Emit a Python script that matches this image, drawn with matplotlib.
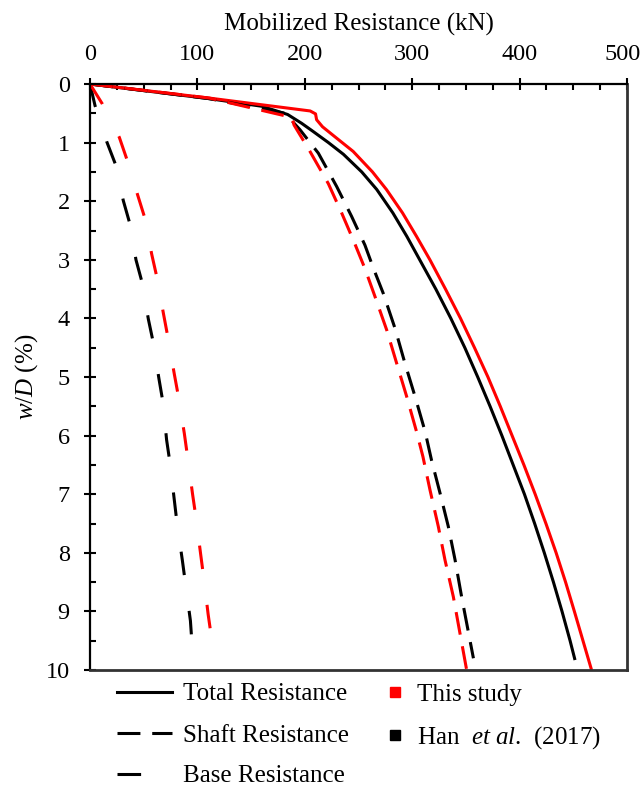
import matplotlib
matplotlib.use("Agg")
import matplotlib.pyplot as plt
import matplotlib.transforms as mtransforms
from matplotlib.ticker import MultipleLocator
from matplotlib.lines import Line2D

plt.rcParams['font.family'] = ['Liberation Serif', 'DejaVu Serif']
plt.rcParams['mathtext.fontset'] = 'custom'
plt.rcParams['mathtext.rm'] = 'Liberation Serif'
plt.rcParams['mathtext.it'] = 'Liberation Serif:italic'
plt.rcParams['lines.scale_dashes'] = False

# ---- data (Mobilized resistance kN, w/D %) ----
this_total_x = [0, 111, 205, 210, 211, 216.5, 228, 245, 263, 276, 291, 304, 316.5, 331, 345, 358, 370.5, 382, 393, 404, 414.5, 424.5, 434, 442.8, 451, 459, 467]
this_total_y = [0, 0.24, 0.46, 0.51, 0.61, 0.73, 0.9, 1.15, 1.5, 1.8, 2.2, 2.6, 3.0, 3.5, 4.0, 4.5, 5.0, 5.5, 6.0, 6.5, 7.0, 7.5, 8.0, 8.5, 9.0, 9.5, 10.0]

han_total_x = [0, 111, 160, 184, 197, 207, 222, 236, 253, 267, 282, 295, 307, 322, 336, 349, 361, 372.5, 383.5, 394, 404.5, 414, 423, 431.5, 439.5, 447, 451.6]
han_total_y = [0, 0.25, 0.38, 0.52, 0.67, 0.8, 1.0, 1.2, 1.5, 1.8, 2.2, 2.6, 3.0, 3.5, 4.0, 4.5, 5.0, 5.5, 6.0, 6.5, 7.0, 7.5, 8.0, 8.5, 9.0, 9.5, 9.83]

this_shaft_x = [0, 111, 188, 190, 204.8, 221.9, 234.3, 246, 256, 265.4, 276.3, 285.6, 294.8, 304, 310, 316.6, 324.3, 330.5, 338.3, 350.7]
this_shaft_y = [0, 0.24, 0.57, 0.70, 1.15, 1.70, 2.20, 2.70, 3.15, 3.63, 4.20, 4.77, 5.33, 5.93, 6.36, 6.93, 7.55, 8.12, 8.75, 10.0]

han_shaft_x = [0, 111, 181.6, 195.5, 212.6, 229.7, 243.6, 256, 264, 273, 284, 293.3, 302.6, 312, 318, 325.9, 333.6, 339.9, 346, 357]
han_shaft_y = [0, 0.25, 0.50, 0.78, 1.18, 1.75, 2.26, 2.75, 3.15, 3.57, 4.17, 4.77, 5.33, 5.93, 6.42, 6.98, 7.55, 8.12, 8.75, 9.80]

this_base_x = [0, 11.5, 27.3, 34.6, 44.3, 51.1, 57.4, 62.3, 68.3, 72.5, 78.5, 82.5, 87.8, 90.9, 95.5, 98.6, 103, 106, 110, 113.2]
this_base_y = [0, 0.34, 0.91, 1.30, 1.89, 2.29, 2.90, 3.30, 3.91, 4.32, 4.95, 5.35, 5.96, 6.37, 7.00, 7.39, 8.02, 8.44, 9.05, 9.46]

han_base_x = [0, 4.7, 15.5, 23.9, 31.0, 37.2, 42.8, 48.7, 54.3, 59.0, 64.2, 68.0, 71.3, 74.5, 78.5, 81.0, 86.0, 88.7, 93.5, 95.0]
han_base_y = [0, 0.37, 0.98, 1.38, 1.99, 2.39, 3.00, 3.40, 4.01, 4.42, 5.03, 5.44, 6.07, 6.47, 7.10, 7.49, 8.13, 8.50, 9.16, 9.56]

x_ticks = [0, 100, 200, 300, 400, 500]
y_ticks = [0, 1, 2, 3, 4, 5, 6, 7, 8, 9, 10]

RED = '#ff0000'
BLK = '#000000'
LW = 2.2
SHAFT_DASH = (16.5, 8.5)
BASE_DASH = (17.0, 26.0)
FS = 18
TFS = 17.5

fig = plt.figure(figsize=(6.44, 7.87), dpi=100)
ax = fig.add_axes([90/644, 1-670/787, (627-90)/644, (670-84)/787])

ax.plot(han_total_x, han_total_y, color=BLK, lw=LW, solid_capstyle='butt')
ax.plot(this_total_x, this_total_y, color=RED, lw=LW, solid_capstyle='butt')
ax.plot(han_shaft_x, han_shaft_y, color=BLK, lw=LW, dashes=SHAFT_DASH)
ax.plot(this_shaft_x, this_shaft_y, color=RED, lw=LW, dashes=SHAFT_DASH)
ax.plot(han_base_x, han_base_y, color=BLK, lw=LW, dashes=BASE_DASH)
ax.plot(this_base_x, this_base_y, color=RED, lw=LW, dashes=BASE_DASH)

ax.set_xlim(0, 500)
ax.set_ylim(10, 0)
ax.xaxis.tick_top()
ax.xaxis.set_label_position('top')
ax.set_xticks(x_ticks)
ax.set_yticks(y_ticks)
ax.xaxis.set_minor_locator(MultipleLocator(25))
ax.yaxis.set_minor_locator(MultipleLocator(0.5))
ax.tick_params(axis='both', which='major', direction='inout', length=9, width=1.5,
               labelsize=TFS)
ax.tick_params(axis='x', which='major', pad=9)
ax.tick_params(axis='y', which='major', pad=10)
ax.tick_params(axis='both', which='minor', direction='in', length=4.5, width=1.5)
ax.tick_params(axis='x', which='both', top=True, bottom=False)
ax.tick_params(axis='y', which='both', left=True, right=False)

for s in ['left', 'top']:
    ax.spines[s].set_linewidth(1.6)
    ax.spines[s].set_color('black')
for s in ['right', 'bottom']:
    ax.spines[s].set_linewidth(2.0)
    ax.spines[s].set_color('#333333')

ax.set_xlabel('Mobilized Resistance (kN)', fontsize=FS, labelpad=10)
ax.set_ylabel(r'$\mathit{w}$/$\mathit{D}$ (%)', fontsize=FS, labelpad=4)

# keep the last top tick label inside the canvas
fig.canvas.draw()
lab = ax.xaxis.get_majorticklabels()[-1]
lab.set_transform(lab.get_transform() + mtransforms.ScaledTranslation(-3/72, 0, fig.dpi_scale_trans))

h1 = [Line2D([], [], color=BLK, lw=LW),
      Line2D([], [], color=BLK, lw=LW, dashes=SHAFT_DASH),
      Line2D([], [], color=BLK, lw=LW, dashes=BASE_DASH)]
l1 = ['Total Resistance', 'Shaft Resistance', 'Base Resistance']
fig.legend(h1, l1, loc='upper left', bbox_to_anchor=(117/644, 1-683/787),
           frameon=False, fontsize=FS, handlelength=2.2, handletextpad=0.45,
           labelspacing=0.74, borderpad=0, borderaxespad=0)

h2 = [Line2D([], [], color=RED, marker='s', ms=7, ls='none'),
      Line2D([], [], color=BLK, marker='s', ms=7, ls='none')]
l2 = ['This study', r'Han  $\mathit{et\ al}$.  (2017)']
fig.legend(h2, l2, loc='upper left', bbox_to_anchor=(385/644, 1-683/787),
           frameon=False, fontsize=FS, handlelength=0.8, handletextpad=0.48,
           labelspacing=0.74, borderpad=0, borderaxespad=0)

fig.savefig('out.png', dpi=100)
